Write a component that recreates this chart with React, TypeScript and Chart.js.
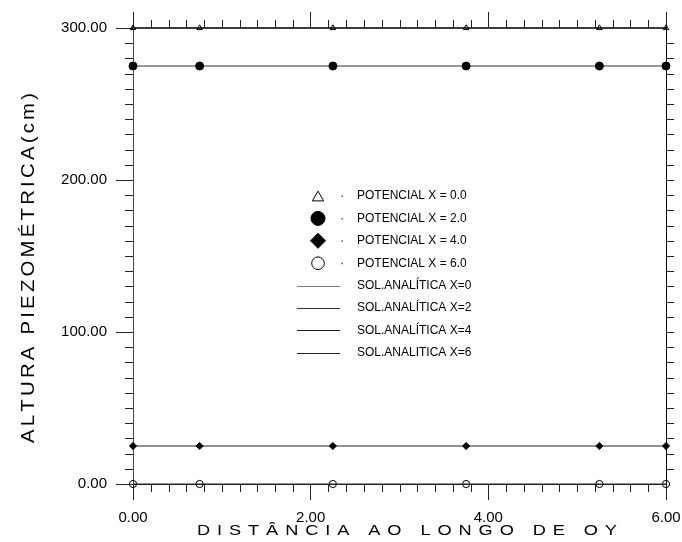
import React, { useEffect, useRef } from 'react';
import { Chart, registerables } from 'chart.js';

Chart.register(...registerables);

// ---- data ----
const distances = [0, 0.75, 2.25, 3.75, 5.25, 6.0];
const potencialX0 = [300, 300, 300, 300, 300, 300];
const potencialX2 = [275, 275, 275, 275, 275, 275];
const potencialX4 = [25, 25, 25, 25, 25, 25];
const potencialX6 = [0, 0, 0, 0, 0, 0];
const analiticaX0 = [300, 300, 300, 300, 300, 300];
const analiticaX2 = [275, 275, 275, 275, 275, 275];
const analiticaX4 = [25, 25, 25, 25, 25, 25];
const analiticaX6 = [0, 0, 0, 0, 0, 0];

const seriesLabels = [
  'POTENCIAL X = 0.0',
  'POTENCIAL X = 2.0',
  'POTENCIAL X = 4.0',
  'POTENCIAL X = 6.0',
  'SOL.ANALÍTICA X=0',
  'SOL.ANALÍTICA X=2',
  'SOL.ANALÍTICA X=4',
  'SOL.ANALITICA X=6',
];

const xMin = 0;
const xMax = 6;
const yMin = 0;
const yMax = 300;
const xMajorStep = 2;
const yMajorStep = 100;
const xMinorStep = 0.2;
const yMinorStep = 10;

const xTitle = 'DISTÂNCIA AO LONGO DE OY';
const yTitle = 'ALTURA PIEZOMÉTRICA(cm)';

const FONT = "'Liberation Sans', Arial, Helvetica, sans-serif";

const toXY = (ys: number[]) => ys.map((y, i) => ({ x: distances[i], y }));

function drawSpaced(
  ctx: CanvasRenderingContext2D,
  text: string,
  cx: number,
  cy: number,
  total: number,
  sx: number,
  angle: number,
  font: string
) {
  ctx.save();
  ctx.font = font;
  ctx.fillStyle = '#000';
  ctx.translate(cx, cy);
  ctx.rotate(angle);
  ctx.scale(sx, 1);
  const chars = Array.from(text);
  const widths = chars.map((c) => ctx.measureText(c).width);
  const natural = widths.reduce((a, b) => a + b, 0);
  const totalLocal = total / sx;
  const gap = (totalLocal - natural) / (chars.length - 1);
  let x = -totalLocal / 2;
  ctx.textBaseline = 'middle';
  ctx.textAlign = 'left';
  chars.forEach((c, i) => {
    ctx.fillText(c, x, 0);
    x += widths[i] + gap;
  });
  ctx.restore();
}

const minorTicksPlugin = {
  id: 'minorTicks',
  afterDraw(chart: any) {
    const ctx = chart.ctx as CanvasRenderingContext2D;
    const xs = chart.scales.x;
    const ys = chart.scales.y;
    const { left, right, top, bottom } = chart.chartArea;
    ctx.save();
    ctx.strokeStyle = '#222';
    ctx.lineWidth = 1;
    ctx.beginPath();
    const nx = Math.round((xMax - xMin) / xMinorStep);
    for (let i = 0; i <= nx; i++) {
      const v = xMin + i * xMinorStep;
      if (i % Math.round(xMajorStep / xMinorStep) === 0) continue;
      const px = Math.round(xs.getPixelForValue(v)) + 0.5;
      ctx.moveTo(px, bottom);
      ctx.lineTo(px, bottom + 8);
      ctx.moveTo(px, top);
      ctx.lineTo(px, top - 8);
    }
    const ny = Math.round((yMax - yMin) / yMinorStep);
    for (let i = 1; i < ny; i++) {
      const v = yMin + i * yMinorStep;
      const py = Math.round(ys.getPixelForValue(v)) + 0.5;
      ctx.moveTo(right, py);
      ctx.lineTo(right + 8, py);
      if (i % Math.round(yMajorStep / yMinorStep) === 0) continue;
      ctx.moveTo(left - 8, py);
      ctx.lineTo(left, py);
    }
    ctx.stroke();
    ctx.restore();

    // axis titles
    const { height } = chart;
    drawSpaced(ctx, xTitle, 407, height - 10.5, 420, 1.3, 0, `14px ${FONT}`);
    drawSpaced(ctx, yTitle, 28.5, 268, 350, 1.1, -Math.PI / 2, `18.5px ${FONT}`);
  },
};

const legendPlugin = {
  id: 'innerLegend',
  afterDatasetsDraw(chart: any) {
    const ctx = chart.ctx as CanvasRenderingContext2D;
    const datasets = chart.data.datasets;
    const markerX = 318;
    const dotX = 342;
    const lineX1 = 297;
    const lineX2 = 340;
    const textX = 357;
    const rowY0 = 196;
    const rowStep = 22.4;
    const legendSizes: Record<string, number> = { triangle: 6.5, circle: 7, rectRot: 7.5, open: 6.3 };
    ctx.save();
    datasets.forEach((ds: any, i: number) => {
      const y = rowY0 + i * rowStep;
      if (!ds.showLine) {
        ctx.lineWidth = 1;
        ctx.strokeStyle = '#000';
        ctx.fillStyle = ds.pointBackgroundColor;
        ctx.beginPath();
        if (ds.pointStyle === 'triangle') {
          const r = legendSizes.triangle;
          const cy = y + r / 4;
          for (let k = 0; k < 3; k++) {
            const a = (k * 2 * Math.PI) / 3;
            const px = markerX + Math.sin(a) * r;
            const py = cy - Math.cos(a) * r;
            if (k === 0) ctx.moveTo(px, py);
            else ctx.lineTo(px, py);
          }
          ctx.closePath();
        } else if (ds.pointStyle === 'rectRot') {
          const r = legendSizes.rectRot;
          ctx.moveTo(markerX - r, y);
          ctx.lineTo(markerX, y - r);
          ctx.lineTo(markerX + r, y);
          ctx.lineTo(markerX, y + r);
          ctx.closePath();
        } else {
          const filled = ds.pointBackgroundColor !== 'rgba(0,0,0,0)';
          const r = filled ? legendSizes.circle : legendSizes.open;
          ctx.arc(markerX, y, r, 0, Math.PI * 2);
        }
        ctx.fill();
        ctx.stroke();
        ctx.fillStyle = '#555';
        ctx.fillRect(dotX - 0.5, y - 0.5, 1.5, 1.5);
      } else {
        ctx.strokeStyle = ds.borderColor;
        ctx.lineWidth = 1;
        ctx.beginPath();
        ctx.moveTo(lineX1, Math.round(y) + 0.5);
        ctx.lineTo(lineX2, Math.round(y) + 0.5);
        ctx.stroke();
      }
      ctx.fillStyle = '#000';
      ctx.font = `12px ${FONT}`;
      ctx.textAlign = 'left';
      ctx.textBaseline = 'middle';
      ctx.fillText(ds.label, textX, y);
    });
    ctx.restore();
  },
};

function fixBox(size: number) {
  return (scale: any) => {
    if (scale.isHorizontal()) scale.height = size;
    else scale.width = size;
    scale.paddingLeft = 0;
    scale.paddingRight = 0;
    scale.paddingTop = 0;
    scale.paddingBottom = 0;
  };
}

export default function App() {
  const canvasRef = useRef<HTMLCanvasElement | null>(null);

  useEffect(() => {
    if (!canvasRef.current) return;
    const pointBase = {
      showLine: false,
      borderColor: '#000',
      pointBorderColor: '#000',
      pointBorderWidth: 1,
      clip: false as any,
    };
    const lineBase = {
      showLine: true,
      pointRadius: 0,
      borderWidth: 1,
      fill: false,
      clip: false as any,
    };
    const chart = new Chart(canvasRef.current, {
      type: 'scatter',
      data: {
        datasets: [
          { ...pointBase, label: seriesLabels[0], data: toXY(potencialX0), pointStyle: 'triangle', pointRadius: 3.2, pointBackgroundColor: 'rgba(0,0,0,0)' },
          { ...pointBase, label: seriesLabels[1], data: toXY(potencialX2), pointStyle: 'circle', pointRadius: 4, pointBackgroundColor: '#000' },
          { ...pointBase, label: seriesLabels[2], data: toXY(potencialX4), pointStyle: 'rectRot', pointRadius: 3.6, pointBackgroundColor: '#000' },
          { ...pointBase, label: seriesLabels[3], data: toXY(potencialX6), pointStyle: 'circle', pointRadius: 3.6, pointBackgroundColor: 'rgba(0,0,0,0)' },
          { ...lineBase, label: seriesLabels[4], data: toXY(analiticaX0), borderColor: '#777' },
          { ...lineBase, label: seriesLabels[5], data: toXY(analiticaX2), borderColor: '#333' },
          { ...lineBase, label: seriesLabels[6], data: toXY(analiticaX4), borderColor: '#222' },
          { ...lineBase, label: seriesLabels[7], data: toXY(analiticaX6), borderColor: '#222' },
        ] as any,
      },
      options: {
        responsive: false,
        animation: false,
        devicePixelRatio: 1,
        layout: { padding: 0 },
        plugins: {
          legend: { display: false },
          tooltip: { enabled: false },
          title: { display: false },
        },
        scales: {
          x: {
            type: 'linear',
            position: 'bottom',
            min: xMin,
            max: xMax,
            afterFit: fixBox(542 - 484),
            ticks: {
              stepSize: xMajorStep,
              callback: (v: any) => Number(v).toFixed(2),
              font: { family: FONT, size: 15 },
              color: '#000',
              padding: 9,
              maxRotation: 0,
              autoSkip: false,
            },
            grid: { drawOnChartArea: false, drawTicks: true, tickLength: 16, tickColor: '#222', lineWidth: 1 },
            border: { display: true, color: '#222', width: 1 },
          },
          x2: {
            type: 'linear',
            position: 'top',
            min: xMin,
            max: xMax,
            z: 1,
            afterFit: fixBox(28),
            ticks: { stepSize: xMajorStep, display: false },
            grid: { drawOnChartArea: false, drawTicks: true, tickLength: 16, tickColor: '#222', lineWidth: 1 },
            border: { display: true, color: '#000', width: 2 },
          },
          y: {
            type: 'linear',
            position: 'left',
            min: yMin,
            max: yMax,
            afterFit: fixBox(133),
            ticks: {
              stepSize: yMajorStep,
              callback: (v: any) => Number(v).toFixed(2),
              font: { family: FONT, size: 15 },
              color: '#000',
              padding: 9,
              autoSkip: false,
            },
            grid: { drawOnChartArea: false, drawTicks: true, tickLength: 17, tickColor: '#222', lineWidth: 1 },
            border: { display: true, color: '#444', width: 1 },
          },
          y2: {
            type: 'linear',
            position: 'right',
            min: yMin,
            max: yMax,
            afterFit: fixBox(682 - 666),
            ticks: { stepSize: yMajorStep, display: false },
            grid: { drawOnChartArea: false, drawTicks: false },
            border: { display: true, color: '#000', width: 1 },
          },
        },
      } as any,
      plugins: [minorTicksPlugin, legendPlugin],
    });
    return () => chart.destroy();
  }, []);

  return (
    <div style={{ position: 'absolute', left: 0, top: 0, width: 682, height: 542, background: '#fff' }}>
      <canvas ref={canvasRef} width={682} height={542} style={{ display: 'block' }} />
    </div>
  );
}
